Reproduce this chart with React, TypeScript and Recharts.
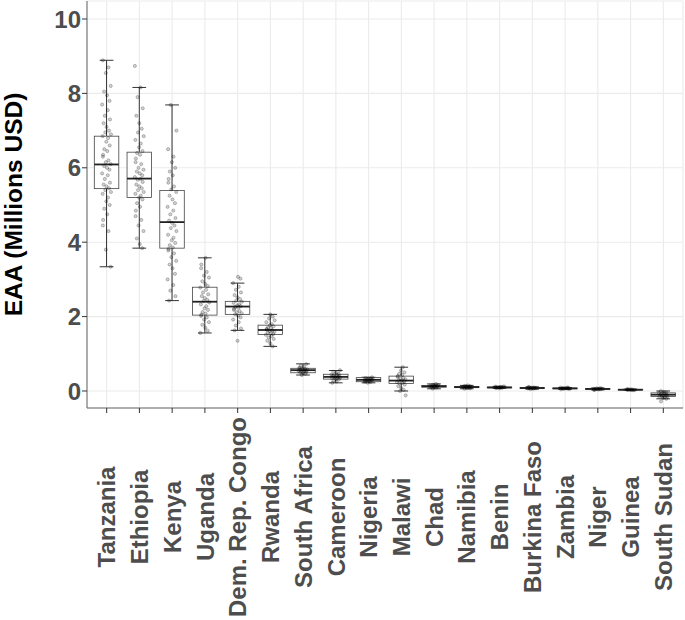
import React from 'react';
import { ComposedChart, Bar, XAxis, YAxis, CartesianGrid } from 'recharts';

const COUNTRIES = [
  'Tanzania', 'Ethiopia', 'Kenya', 'Uganda', 'Dem. Rep. Congo', 'Rwanda',
  'South Africa', 'Cameroon', 'Nigeria', 'Malawi', 'Chad', 'Namibia',
  'Benin', 'Burkina Faso', 'Zambia', 'Niger', 'Guinea', 'South Sudan',
];

// box statistics (millions USD)
const WHISKER_LO = [3.34, 3.84, 2.43, 1.56, 1.63, 1.2, 0.43, 0.22, 0.22, 0.0, 0.06, 0.06, 0.07, 0.05, 0.045, 0.03, 0.02, -0.21];
const Q1 = [5.44, 5.2, 3.84, 2.04, 2.06, 1.52, 0.49, 0.32, 0.25, 0.2, 0.105, 0.09, 0.085, 0.07, 0.06, 0.045, 0.03, -0.15];
const MEDIAN = [6.09, 5.71, 4.54, 2.4, 2.27, 1.64, 0.56, 0.38, 0.3, 0.28, 0.125, 0.105, 0.095, 0.08, 0.07, 0.055, 0.035, -0.1];
const Q3 = [6.85, 6.42, 5.39, 2.79, 2.41, 1.77, 0.61, 0.45, 0.36, 0.4, 0.15, 0.12, 0.105, 0.09, 0.08, 0.065, 0.04, -0.05];
const WHISKER_HI = [8.89, 8.16, 7.69, 3.58, 2.9, 2.06, 0.73, 0.55, 0.37, 0.64, 0.19, 0.15, 0.125, 0.11, 0.095, 0.08, 0.05, 0.0];

// individual simulated values shown as jittered dots
const POINTS: number[][] = [
  [8.89, 8.7, 8.55, 8.2, 8.05, 7.95, 7.8, 7.7, 7.55, 7.4, 7.3, 7.2, 7.1, 7.0, 6.95, 6.9, 6.85, 6.8, 6.7, 6.6, 6.5, 6.45, 6.35, 6.3, 6.2, 6.15, 6.1, 6.05, 6.0, 5.95, 5.85, 5.8, 5.7, 5.6, 5.55, 5.5, 5.45, 5.4, 5.35, 5.3, 5.2, 5.1, 5.0, 4.9, 4.75, 4.6, 4.45, 4.3, 3.8, 3.34],
  [8.74, 8.16, 7.9, 7.6, 7.4, 7.2, 7.05, 6.95, 6.85, 6.75, 6.65, 6.55, 6.45, 6.4, 6.35, 6.25, 6.15, 6.1, 6.0, 5.95, 5.9, 5.85, 5.8, 5.75, 5.7, 5.68, 5.62, 5.55, 5.5, 5.45, 5.4, 5.35, 5.3, 5.25, 5.2, 5.15, 5.05, 4.95, 4.85, 4.7, 4.6, 4.45, 4.3, 4.1, 3.95, 3.84],
  [7.69, 7.0, 6.5, 6.3, 6.15, 6.0, 5.9, 5.8, 5.7, 5.6, 5.5, 5.42, 5.35, 5.25, 5.15, 5.05, 4.95, 4.85, 4.75, 4.65, 4.58, 4.52, 4.45, 4.38, 4.3, 4.2, 4.12, 4.05, 3.98, 3.92, 3.86, 3.82, 3.78, 3.7, 3.6, 3.5, 3.4, 3.3, 3.15, 3.0, 2.85, 2.7, 2.55, 2.43],
  [3.58, 3.4, 3.3, 3.2, 3.1, 3.05, 2.95, 2.88, 2.82, 2.78, 2.72, 2.65, 2.6, 2.55, 2.5, 2.45, 2.42, 2.38, 2.33, 2.28, 2.22, 2.18, 2.12, 2.08, 2.05, 2.02, 1.98, 1.92, 1.85, 1.78, 1.7, 1.62, 1.56],
  [3.07, 3.02, 2.9, 2.8, 2.72, 2.65, 2.58, 2.52, 2.47, 2.43, 2.4, 2.37, 2.33, 2.3, 2.28, 2.26, 2.24, 2.21, 2.18, 2.15, 2.12, 2.09, 2.06, 2.03, 1.98, 1.92, 1.85, 1.76, 1.68, 1.63, 1.35],
  [2.06, 2.0, 1.95, 1.9, 1.85, 1.8, 1.77, 1.74, 1.71, 1.69, 1.67, 1.65, 1.63, 1.61, 1.59, 1.57, 1.55, 1.53, 1.51, 1.48, 1.44, 1.4, 1.35, 1.28, 1.2],
  [0.72, 0.68, 0.65, 0.63, 0.61, 0.6, 0.59, 0.58, 0.57, 0.56, 0.55, 0.54, 0.53, 0.52, 0.51, 0.5, 0.48, 0.46, 0.43],
  [0.56, 0.52, 0.49, 0.46, 0.44, 0.43, 0.42, 0.41, 0.4, 0.39, 0.38, 0.37, 0.36, 0.35, 0.34, 0.33, 0.31, 0.28, 0.25, 0.22],
  [0.37, 0.35, 0.34, 0.33, 0.32, 0.31, 0.31, 0.3, 0.3, 0.29, 0.28, 0.27, 0.26, 0.25, 0.24, 0.22],
  [0.64, 0.55, 0.5, 0.46, 0.43, 0.4, 0.38, 0.35, 0.33, 0.31, 0.29, 0.28, 0.26, 0.24, 0.22, 0.2, 0.17, 0.13, 0.08, 0.03, 0.0, -0.12],
  [0.19, 0.17, 0.16, 0.15, 0.14, 0.14, 0.13, 0.13, 0.12, 0.12, 0.11, 0.1, 0.09, 0.06],
  [0.15, 0.14, 0.13, 0.12, 0.12, 0.11, 0.11, 0.1, 0.1, 0.09, 0.08, 0.07, 0.06],
  [0.125, 0.12, 0.11, 0.105, 0.1, 0.095, 0.095, 0.09, 0.085, 0.08, 0.07],
  [0.11, 0.1, 0.095, 0.09, 0.085, 0.08, 0.08, 0.075, 0.07, 0.06, 0.05],
  [0.095, 0.09, 0.085, 0.08, 0.075, 0.07, 0.07, 0.065, 0.06, 0.055, 0.045],
  [0.08, 0.07, 0.065, 0.06, 0.055, 0.055, 0.05, 0.045, 0.04, 0.035, 0.03],
  [0.05, 0.045, 0.04, 0.04, 0.035, 0.035, 0.03, 0.03, 0.025, 0.02],
  [0.0, -0.02, -0.04, -0.05, -0.07, -0.08, -0.09, -0.1, -0.11, -0.12, -0.13, -0.14, -0.15, -0.17, -0.19, -0.21, -0.28],
];

// fixed horizontal jitter pattern, as a fraction of box width
const JITTER = [-0.15, 0.08, -0.03, 0.17, -0.1, 0.02, 0.12, -0.18, 0.05, -0.07, 0.14, -0.12, 0.0, 0.1, -0.05, 0.18, -0.16, 0.06, -0.01, 0.13, -0.09, 0.03, -0.14];

const Y_TICKS = [0, 2, 4, 6, 8, 10];
const Y_MINOR = [1, 3, 5, 7, 9];
const Y_DOMAIN = [-0.457, 10.484];

const FONT = '"Liberation Sans", Arial, Helvetica, sans-serif';

const data = COUNTRIES.map((name, i) => ({
  name,
  range: [WHISKER_LO[i], WHISKER_HI[i]],
  lo: WHISKER_LO[i],
  q1: Q1[i],
  med: MEDIAN[i],
  q3: Q3[i],
  hi: WHISKER_HI[i],
  points: POINTS[i],
  idx: i,
}));

// draws one box with whiskers and dots; pixel scale taken from the bar Recharts lays out
const BoxShape = (props: any) => {
  const { x, y, width, height, payload } = props;
  if (!payload) return null;
  const { lo, hi, q1, med, q3, points, idx } = payload;
  const k = height / (hi - lo);
  const py = (v: number) => y + (hi - v) * k;
  const cx = x + width / 2;
  const cap = width * 0.28;
  return (
    <g>
      <line x1={cx} x2={cx} y1={py(hi)} y2={py(q3)} stroke="#333" strokeWidth={1} />
      <line x1={cx} x2={cx} y1={py(q1)} y2={py(lo)} stroke="#333" strokeWidth={1} />
      <line x1={cx - cap} x2={cx + cap} y1={py(hi)} y2={py(hi)} stroke="#333" strokeWidth={1} />
      <line x1={cx - cap} x2={cx + cap} y1={py(lo)} y2={py(lo)} stroke="#333" strokeWidth={1} />
      <rect
        x={x}
        y={py(q3)}
        width={width}
        height={Math.max(py(q1) - py(q3), 0.5)}
        fill="#fff"
        stroke="#444"
        strokeWidth={0.8}
      />
      <line x1={x} x2={x + width} y1={py(med)} y2={py(med)} stroke="#222" strokeWidth={1.8} />
      {points.map((v: number, j: number) => (
        <circle
          key={j}
          cx={cx + JITTER[(j + idx * 7) % JITTER.length] * width}
          cy={py(v)}
          r={1.6}
          fill="rgba(0,0,0,0.18)"
          stroke="rgba(0,0,0,0.45)"
          strokeWidth={0.5}
        />
      ))}
    </g>
  );
};

const CountryTick = (props: any) => {
  const { x, y, payload } = props;
  const cy = y + 102;
  return (
    <text
      x={x}
      y={cy}
      dy="0.36em"
      textAnchor="middle"
      transform={`rotate(-90, ${x}, ${cy})`}
      fill="#4d4d4d"
      fontSize={24}
      fontWeight="bold"
      fontFamily={FONT}
    >
      {payload.value}
    </text>
  );
};

const YTitle = (props: any) => {
  const { viewBox } = props;
  if (!viewBox) return null;
  const tx = viewBox.x + 14;
  const ty = viewBox.y + viewBox.height / 2;
  return (
    <text
      x={tx}
      y={ty}
      dy="0.34em"
      textAnchor="middle"
      transform={`rotate(-90, ${tx}, ${ty})`}
      fill="#000"
      fontSize={24.5}
      fontWeight="bold"
      fontFamily={FONT}
    >
      EAA (Millions USD)
    </text>
  );
};

export default function App() {
  return (
    <div style={{ position: 'absolute', left: 0, top: 0, background: '#fff' }}>
      <ComposedChart width={685} height={620} data={data} margin={{ top: 1, right: 2, bottom: 0, left: 0 }}>
        <CartesianGrid
          stroke="#f3f3f3"
          strokeWidth={0.6}
          vertical={false}
          horizontalCoordinatesGenerator={({ yAxis }: any) =>
            yAxis && typeof yAxis.scale === 'function' ? Y_MINOR.map((v) => yAxis.scale(v)) : []
          }
        />
        <CartesianGrid stroke="#ebebeb" strokeWidth={1.1} />
        <XAxis
          dataKey="name"
          interval={0}
          height={212}
          padding={{ left: 3.3, right: 3.3 }}
          tick={<CountryTick />}
          tickSize={5}
          tickLine={{ stroke: '#333' }}
          axisLine={{ stroke: '#666' }}
        />
        <XAxis xAxisId="top" dataKey="name" orientation="top" height={0} tick={false} tickLine={false} axisLine={{ stroke: '#666' }} />
        <YAxis
          type="number"
          domain={Y_DOMAIN}
          ticks={Y_TICKS}
          allowDataOverflow
          width={87}
          tickSize={5}
          tickMargin={1}
          tickLine={{ stroke: '#333' }}
          axisLine={{ stroke: '#666' }}
          tick={{ fill: '#4d4d4d', fontSize: 24, fontWeight: 'bold', fontFamily: FONT }}
          label={<YTitle />}
        />
        <YAxis yAxisId="right" orientation="right" width={0} domain={Y_DOMAIN} tick={false} tickLine={false} axisLine={{ stroke: '#666' }} />
        <Bar dataKey="range" barSize={24.5} shape={<BoxShape />} isAnimationActive={false} />
      </ComposedChart>
    </div>
  );
}
